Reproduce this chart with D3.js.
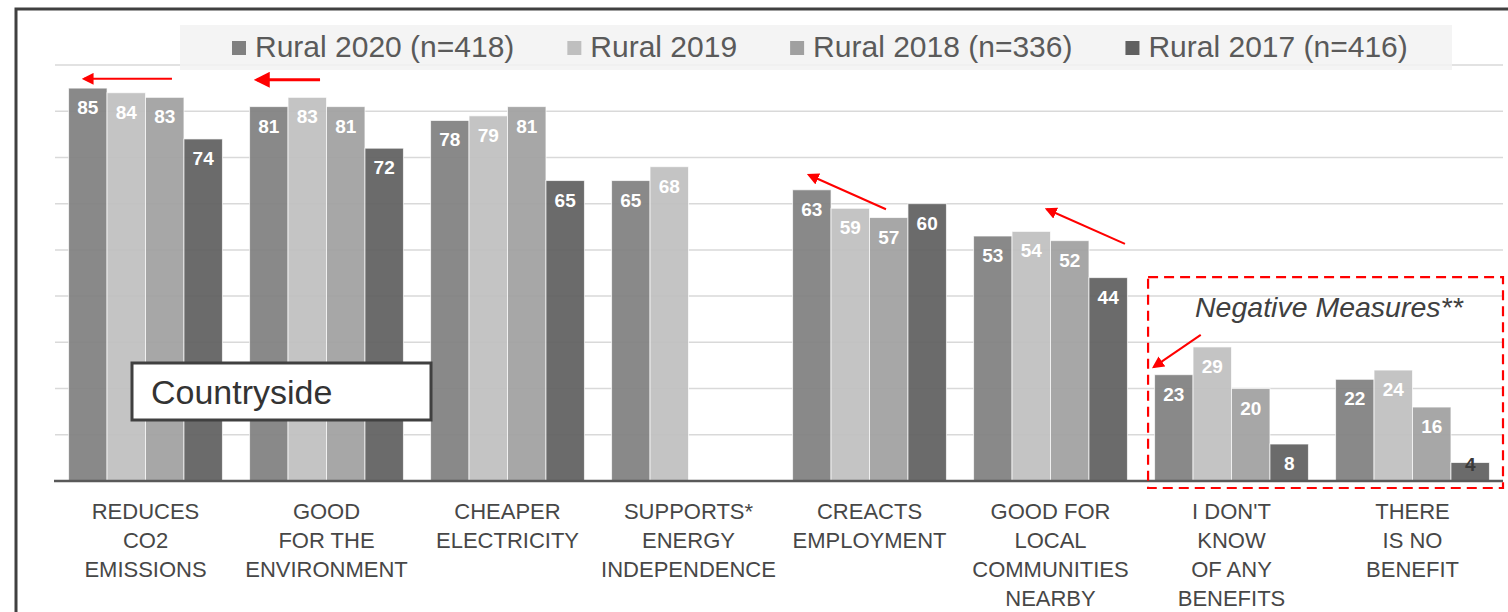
<!DOCTYPE html>
<html><head><meta charset="utf-8">
<script src="https://cdn.jsdelivr.net/npm/d3@7"></script>
<style>
html,body{margin:0;padding:0;background:#fff;}
svg{display:block;}
text{font-family:"Liberation Sans",Arial,sans-serif;}
</style></head>
<body>
<svg id="chart" width="1508" height="612"></svg>
<script>
const categories = [
  ["REDUCES","CO2","EMISSIONS"],
  ["GOOD","FOR THE","ENVIRONMENT"],
  ["CHEAPER","ELECTRICITY"],
  ["SUPPORTS*","ENERGY","INDEPENDENCE"],
  ["CREACTS","EMPLOYMENT"],
  ["GOOD FOR","LOCAL","COMMUNITIES","NEARBY"],
  ["I DON'T","KNOW","OF ANY","BENEFITS"],
  ["THERE","IS NO","BENEFIT"]
];
const seriesNames = ["Rural 2020 (n=418)","Rural 2019","Rural 2018 (n=336)","Rural 2017 (n=416)"];
const rural2020 = [85,81,78,65,63,53,23,22];
const rural2019 = [84,83,79,68,59,54,29,24];
const rural2018 = [83,81,81,null,57,52,20,16];
const rural2017 = [74,72,65,null,60,44,8,4];
const seriesColors = ["#808080","#bfbfbf","#a0a0a0","#606060"];
const yTicks = [10,20,30,40,50,60,70,80,90];

(function(){
const series = [rural2020, rural2019, rural2018, rural2017];
const svg = d3.select("#chart");

const pLeft = 55, pRight = 1503, pTop = 65, pBottom = 481;
const catIdx = categories.map((d,i)=>i);
const x = d3.scaleBand().domain(catIdx).range([pLeft,pRight]).paddingInner(0.15).paddingOuter(0.075);
const xs = d3.scaleBand().domain(d3.range(4)).range([0,x.bandwidth()]).padding(0);
const y = d3.scaleLinear().domain([0,90]).range([pBottom,pTop]);

// outer frame
svg.append("rect").attr("x",16).attr("y",9).attr("width",1600).attr("height",700)
  .attr("fill","none").attr("stroke","#404040").attr("stroke-width",3);

// gridlines
svg.append("g").selectAll("line").data(yTicks).join("line")
  .attr("x1",pLeft).attr("x2",pRight)
  .attr("y1",d=>y(d)).attr("y2",d=>y(d))
  .attr("stroke","#d9d9d9").attr("stroke-width",1.5);

// bars
const gBars = svg.append("g");
series.forEach((vals,si)=>{
  gBars.append("g").selectAll("rect").data(vals.map((v,i)=>({v,i}))
    .filter(d=>d.v!=null)).join("rect")
    .attr("x",d=>x(d.i)+xs(si))
    .attr("width",xs.bandwidth())
    .attr("y",d=>y(d.v))
    .attr("height",d=>y(0)-y(d.v))
    .attr("fill",seriesColors[si])
    .attr("fill-opacity",0.93)
    .attr("stroke","#ffffff").attr("stroke-width",1).attr("stroke-opacity",0.7);
});
// labels
series.forEach((vals,si)=>{
  gBars.append("g").selectAll("text").data(vals.map((v,i)=>({v,i}))
    .filter(d=>d.v!=null)).join("text")
    .attr("x",d=>x(d.i)+xs(si)+xs.bandwidth()/2)
    .attr("y",d=> (y(0)-y(d.v) < 30) ? y(d.v)+8 : y(d.v)+26)
    .attr("text-anchor","middle")
    .attr("font-size",19).attr("font-weight","bold")
    .attr("fill",d=> (y(0)-y(d.v) < 30) ? "#3a3a3a" : "#ffffff")
    .text(d=>d.v);
});

// baseline
svg.append("line").attr("x1",pLeft-1).attr("x2",pRight).attr("y1",y(0)).attr("y2",y(0))
  .attr("stroke","#595959").attr("stroke-width",2.5);

// x labels
const gx = svg.append("g");
categories.forEach((lines,i)=>{
  const t = gx.append("text").attr("text-anchor","middle")
    .attr("font-size",22).attr("fill","#474747");
  lines.forEach((ln,j)=>{
    t.append("tspan").attr("x",x(i)+x.bandwidth()/2).attr("y",519+j*29).text(ln);
  });
});

// legend
svg.append("rect").attr("x",180).attr("y",25).attr("width",1272).attr("height",45)
  .attr("fill","#f2f2f2").attr("fill-opacity",0.85);
const gl = svg.append("g");
let lx = 0;
seriesNames.forEach((n,i)=>{
  const g = gl.append("g");
  g.append("rect").attr("x",0).attr("y",41).attr("width",14).attr("height",14).attr("fill",seriesColors[i]);
  const t = g.append("text").attr("x",23).attr("y",57).attr("font-size",30).attr("fill","#5a5a5a").text(n);
  const w = t.node().getComputedTextLength();
  g.attr("transform",`translate(${lx},0)`);
  lx += 23 + w + 53;
});
gl.attr("transform",`translate(232,0)`);

// annotations
const defs = svg.append("defs");
function marker(id,size){
  defs.append("marker").attr("id",id).attr("viewBox","0 0 10 10").attr("refX",8).attr("refY",5)
    .attr("markerWidth",size).attr("markerHeight",size).attr("orient","auto")
    .attr("markerUnits","userSpaceOnUse")
    .append("path").attr("d","M0,0L10,5L0,10z").attr("fill","#ff0000");
}
marker("ah",12); marker("ahBig",16);
const arrows = [
  {c:0,f1:0.672,v1:87.0,f2:0.10,v2:87.0,w:2,m:"ah"},
  {c:1,f1:0.458,v1:86.8,f2:0.048,v2:86.8,w:3,m:"ahBig"},
  {c:4,f1:0.607,v1:58.8,f2:0.107,v2:66.2,w:2,m:"ah"},
  {c:5,f1:0.984,v1:51.3,f2:0.477,v2:58.8,w:2,m:"ah"},
  {c:6,f1:0.30,v1:31.6,f2:-0.004,v2:24.7,w:2,m:"ah"}
];
svg.append("g").selectAll("line").data(arrows).join("line")
  .attr("x1",d=>x(d.c)+d.f1*x.bandwidth()).attr("y1",d=>y(d.v1))
  .attr("x2",d=>x(d.c)+d.f2*x.bandwidth()).attr("y2",d=>y(d.v2))
  .attr("stroke","#ff0000").attr("stroke-width",d=>d.w)
  .attr("marker-end",d=>`url(#${d.m})`);

// dashed negative box
svg.append("rect").attr("x",x(6)-6.5).attr("y",y(44.1))
  .attr("width",pRight-(x(6)-6.5)).attr("height",(y(0)+7)-y(44.1))
  .attr("fill","none").attr("stroke","#ff0000").attr("stroke-width",2.2)
  .attr("stroke-dasharray","10,6");
svg.append("text").attr("x",1195).attr("y",317)
  .attr("font-size",28.5).attr("font-style","italic")
  .attr("fill","#404040").text("Negative Measures**");

// Countryside box
svg.append("rect").attr("x",132).attr("y",363).attr("width",299).attr("height",57)
  .attr("fill","#ffffff").attr("stroke","#404040").attr("stroke-width",3);
svg.append("text").attr("x",151).attr("y",404).attr("font-size",34).attr("fill","#333333").text("Countryside");
})();
</script>
</body></html>
